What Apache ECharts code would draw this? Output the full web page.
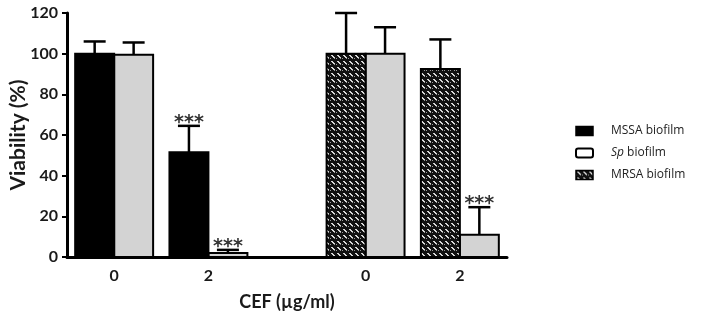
<!DOCTYPE html>
<html>
<head>
<meta charset="utf-8">
<script src="https://cdn.jsdelivr.net/npm/echarts@6/dist/echarts.min.js"></script>
<style>
html,body{margin:0;padding:0;background:#fff;}
#chart{width:707px;height:315px;}
</style>
</head>
<body>
<div id="chart"></div>
<script>
// ---- data ----
const xSlots   = ['', '0', '', '', '2', '', '', '', '', '0', '', '', '2', ''];
const mssa     = [null, 100,  null, null, 51.5, null, null, null, null, null, null, null, null, null];
const mssaErr  = [null, 106,  null, null, 64.5, null, null, null, null, null, null, null, null, null];
const mssaSig  = ['',   '',   '',   '',   '***','',   '',   '',   '',   '',   '',   '',   '',   ''];
const sp       = [null, 99.5, null, null, 2,    null, null, null, null, 100,  null, null, 11,   null];
const spErr    = [null, 105.5,null, null, 3.5,  null, null, null, null, 113,  null, null, 24.5, null];
const spSig    = ['',   '',   '',   '',   '***','',   '',   '',   '',   '',   '',   '',   '***',''];
const mrsa     = [null, null, null, null, null, null, null, null, null, 100,  null, null, 92.5, null];
const mrsaErr  = [null, null, null, null, null, null, null, null, null, 120,  null, null, 107,  null];
const mrsaSig  = ['',   '',   '',   '',   '',   '',   '',   '',   '',   '',   '',   '',   '',   ''];
const yTicks   = [0, 20, 40, 60, 80, 100, 120];
const seriesNames = ['MSSA biofilm', 'Sp biofilm', 'MRSA biofilm'];

// ---- pattern ----
function makePattern() {
  const c = document.createElement('canvas');
  c.width = 6; c.height = 6;
  const g = c.getContext('2d');
  g.fillStyle = '#111';
  g.fillRect(0, 0, 6, 6);
  g.fillStyle = '#d8d8d8';
  g.fillRect(1, 1, 2, 1);
  g.fillRect(2, 2, 2, 1);
  g.fillRect(3, 3, 2, 1);
  g.fillStyle = '#9a9a9a';
  g.fillRect(4, 4, 1, 1);
  g.fillRect(0, 4, 1, 1);
  return { image: c, repeat: 'repeat' };
}
const pattern = makePattern();

function toItems(vals, errs) {
  const out = [];
  vals.forEach((v, i) => { if (v !== null) out.push([i, v, errs[i]]); });
  return out;
}

function barRenderer(side, fill, sigs) {
  return function (params, api) {
    const idx = api.value(0), v = api.value(1), e = api.value(2);
    const sig = sigs[idx] || '';
    const band = api.size([1, 0])[0];
    const bw = band * 1.24;
    const c = api.coord([idx, 0]);
    const top = api.coord([idx, v]);
    const et = api.coord([idx, e]);
    const x0 = side < 0 ? c[0] - bw : c[0];
    const cx = x0 + bw / 2;
    const children = [
      { type: 'rect', shape: { x: x0, y: top[1], width: bw, height: c[1] - top[1] },
        style: { fill: fill, stroke: '#000', lineWidth: 2 } },
      { type: 'line', shape: { x1: cx, y1: top[1], x2: cx, y2: et[1] },
        style: { stroke: '#000', lineWidth: 2.5 } },
      { type: 'line', shape: { x1: cx - 11, y1: et[1], x2: cx + 11, y2: et[1] },
        style: { stroke: '#000', lineWidth: 2.5 } }
    ];
    if (sig) {
      children.push({ type: 'text', x: cx, y: et[1] - 3,
        style: { text: sig, fill: '#333', fontSize: 19, fontWeight: 'bold', fontFamily: 'DejaVu Sans',
                 align: 'center', verticalAlign: 'middle' } });
    }
    return { type: 'group', children: children };
  };
}

const chart = echarts.init(document.getElementById('chart'));
chart.setOption({
  animation: false,
  backgroundColor: '#fff',
  grid: { left: 67, right: 200, top: 13, bottom: 58, containLabel: false, outerBoundsMode: 'none' },
  xAxis: {
    type: 'category', data: xSlots, boundaryGap: true,
    name: 'CEF (µg/ml)', nameLocation: 'middle', nameGap: 36, nameMoveOverlap: false,
    nameTextStyle: { fontFamily: 'Lato', fontWeight: 'bold', fontSize: 18, color: '#1a1a1a' },
    axisLine: { lineStyle: { color: '#000', width: 3 } },
    axisTick: { show: false },
    axisLabel: { interval: 0, margin: 11, fontFamily: 'Lato', fontWeight: 'bold', fontSize: 16, color: '#1a1a1a' },
    splitLine: { show: false }
  },
  yAxis: {
    type: 'value', min: yTicks[0], max: yTicks[yTicks.length - 1], interval: 20,
    name: 'Viability (%)', nameLocation: 'middle', nameGap: 38, nameRotate: 90, nameMoveOverlap: false,
    nameTextStyle: { fontFamily: 'Lato', fontWeight: 'bold', fontSize: 21, color: '#1a1a1a' },
    axisLine: { show: true, lineStyle: { color: '#000', width: 3 } },
    axisTick: { show: true, length: 5, lineStyle: { color: '#000', width: 2 } },
    axisLabel: { margin: 9, fontFamily: 'Lato', fontWeight: 'bold', fontSize: 16, color: '#1a1a1a' },
    splitLine: { show: false }
  },
  legend: {
    orient: 'vertical', left: 575, top: 125, itemGap: 10, padding: 0,
    itemWidth: 17, itemHeight: 9,
    textStyle: { fontFamily: 'Open Sans', fontSize: 12, color: '#222', padding: [0, 0, 0, 13],
      rich: { i: { fontFamily: 'Open Sans', fontSize: 12, fontStyle: 'italic', color: '#222' },
              n: { fontFamily: 'Open Sans', fontSize: 12, color: '#222' } } },
    formatter: function (name) {
      return name === 'Sp biofilm' ? '{i|Sp}{n| biofilm}' : name;
    },
    data: [
      { name: seriesNames[0], icon: 'rect', itemStyle: { color: '#000', borderColor: '#000', borderWidth: 1.5 } },
      { name: seriesNames[1], icon: 'roundRect', itemStyle: { color: '#fff', borderColor: '#000', borderWidth: 2 } },
      { name: seriesNames[2], icon: 'rect', itemStyle: { color: pattern, borderColor: '#000', borderWidth: 1.5 } }
    ]
  },
  series: [
    { name: seriesNames[0], type: 'custom', renderItem: barRenderer(-1, '#000', mssaSig),
      itemStyle: { color: '#000' }, encode: { x: 0, y: [1, 2] },
      data: toItems(mssa, mssaErr), z: 3 },
    { name: seriesNames[1], type: 'custom', renderItem: barRenderer(1, '#d3d3d3', spSig),
      itemStyle: { color: '#fff' }, encode: { x: 0, y: [1, 2] },
      data: toItems(sp, spErr), z: 2 },
    { name: seriesNames[2], type: 'custom', renderItem: barRenderer(-1, pattern, mrsaSig),
      itemStyle: { color: '#111' }, encode: { x: 0, y: [1, 2] },
      data: toItems(mrsa, mrsaErr), z: 3 }
  ]
});
</script>
</body>
</html>
